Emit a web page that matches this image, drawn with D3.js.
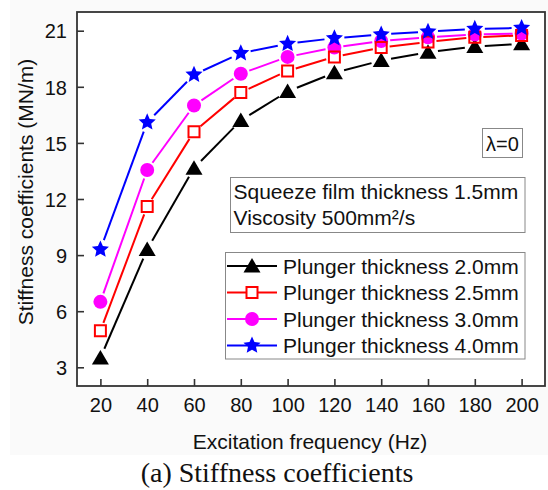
<!DOCTYPE html>
<html><head><meta charset="utf-8">
<script src="https://cdn.jsdelivr.net/npm/d3@7"></script>
<style>
html,body{margin:0;padding:0;background:#fff;}
svg{display:block;}
text{font-family:"Liberation Sans",Arial,sans-serif;fill:#111;}
</style></head><body>
<svg id="c" width="548" height="490"></svg>
<script>
const frequencies = [20, 40, 60, 80, 100, 120, 140, 160, 180, 200];
const plunger20 = [3.5, 9.3, 13.65, 16.2, 17.75, 18.75, 19.4, 19.85, 20.15, 20.3];
const plunger25 = [4.95, 11.6, 15.6, 17.7, 18.85, 19.6, 20.1, 20.4, 20.65, 20.75];
const plunger30 = [6.5, 13.55, 17.0, 18.7, 19.6, 20.1, 20.45, 20.65, 20.8, 20.85];
const plunger40 = [9.3, 16.1, 18.65, 19.8, 20.3, 20.6, 20.8, 20.95, 21.1, 21.15];
const seriesNames = ["Plunger thickness 2.0mm", "Plunger thickness 2.5mm", "Plunger thickness 3.0mm", "Plunger thickness 4.0mm"];
const xTicks = [20, 40, 60, 80, 100, 120, 140, 160, 180, 200];
const yTicks = [3, 6, 9, 12, 15, 18, 21];

const svg = d3.select("#c");
const L = 77, R = 545, T = 12, B = 386;
const x = d3.scaleLinear().domain([10, 210]).range([L, R]);
const y = d3.scaleLinear().domain([2, 22]).range([B, T]);

// light figure background
svg.append("rect").attr("x", 10).attr("y", 0).attr("width", 538).attr("height", 455).attr("fill", "#fafafa");
svg.append("rect").attr("x", L).attr("y", T).attr("width", R - L).attr("height", B - T).attr("fill", "#fff");

// axes with inward ticks
const xAxis = d3.axisBottom(x).tickValues(xTicks).tickSize(-7).tickPadding(0).tickFormat(d3.format("d"));
const gx = svg.append("g").attr("transform", `translate(0,${B})`).call(xAxis);
gx.select(".domain").remove();
gx.selectAll(".tick line").attr("stroke", "#333").attr("stroke-width", 1.6);
gx.selectAll(".tick text").attr("y", 25.5).attr("dy", null).attr("font-size", 20).attr("fill", "#111")
  .style("font-family", '"Liberation Sans",Arial,sans-serif');

const yAxis = d3.axisLeft(y).tickValues(yTicks).tickSize(-7).tickPadding(0).tickFormat(d3.format("d"));
const gy = svg.append("g").attr("transform", `translate(${L},0)`).call(yAxis);
gy.select(".domain").remove();
gy.selectAll(".tick line").attr("stroke", "#333").attr("stroke-width", 1.6);
gy.selectAll(".tick text").attr("x", -10).attr("dy", "0.36em").attr("font-size", 20).attr("fill", "#111")
  .style("font-family", '"Liberation Sans",Arial,sans-serif');

// frame
svg.append("rect").attr("x", L).attr("y", T).attr("width", R - L).attr("height", B - T)
  .attr("fill", "none").attr("stroke", "#333").attr("stroke-width", 1.8);

// marker shapes
function starPath(Ro, Ri) {
  let p = [];
  for (let i = 0; i < 10; i++) {
    const r = i % 2 === 0 ? Ro : Ri;
    const a = -Math.PI / 2 + i * Math.PI / 5;
    p.push([r * Math.cos(a), r * Math.sin(a)]);
  }
  return "M" + p.map(d => d.join(",")).join("L") + "Z";
}
const markers = [
  {color: "#000000", path: "M0,-8L8.5,6.5L-8.5,6.5Z", fill: "#000000", stroke: "none", sw: 0, gap: 10},
  {color: "#ff0000", path: "M-5.5,-5.5H5.5V5.5H-5.5Z", fill: "none", stroke: "#ff0000", sw: 2, gap: 8.5},
  {color: "#ff00ff", path: "M-7,0A7,7 0 1,0 7,0A7,7 0 1,0 -7,0Z", fill: "#ff00ff", stroke: "none", sw: 0, gap: 9},
  {color: "#0000ff", path: starPath(9, 4.2), fill: "#0000ff", stroke: "none", sw: 0, gap: 10}
];
const seriesValues = [plunger20, plunger25, plunger30, plunger40];
const drawOrder = [0, 2, 1, 3];

const plot = svg.append("g");
drawOrder.forEach(si => {
  const m = markers[si];
  const vals = seriesValues[si];
  const pts = frequencies.map((f, i) => [x(f), y(vals[i])]);
  const g = plot.append("g");
  for (let i = 0; i < pts.length - 1; i++) {
    const [x1, y1] = pts[i], [x2, y2] = pts[i + 1];
    const dx = x2 - x1, dy = y2 - y1, len = Math.hypot(dx, dy);
    if (len <= 2 * m.gap) continue;
    const ux = dx / len, uy = dy / len;
    g.append("line")
      .attr("x1", x1 + ux * m.gap).attr("y1", y1 + uy * m.gap)
      .attr("x2", x2 - ux * m.gap).attr("y2", y2 - uy * m.gap)
      .attr("stroke", m.color).attr("stroke-width", 2);
  }
  g.selectAll("path.mk").data(pts).enter().append("path").attr("class", "mk")
    .attr("d", m.path).attr("transform", d => `translate(${d[0]},${d[1]})`)
    .attr("fill", m.fill).attr("stroke", m.stroke).attr("stroke-width", m.sw);
});

// lambda box
svg.append("rect").attr("x", 482.5).attr("y", 128.5).attr("width", 40).attr("height", 29)
  .attr("fill", "#fff").attr("stroke", "#888").attr("stroke-width", 1);
svg.append("text").attr("x", 502.5).attr("y", 150.5).attr("text-anchor", "middle").attr("font-size", 20).text("λ=0");

// condition box
svg.append("rect").attr("x", 230.5).attr("y", 177.5).attr("width", 294.5).attr("height", 55)
  .attr("fill", "#fff").attr("stroke", "#888").attr("stroke-width", 1);
svg.append("text").attr("x", 233.5).attr("y", 198.5).attr("font-size", 21).text("Squeeze film thickness 1.5mm");
svg.append("text").attr("x", 233.5).attr("y", 225).attr("font-size", 21).text("Viscosity 500mm²/s");

// legend
svg.append("rect").attr("x", 225.5).attr("y", 252.5).attr("width", 299.5).attr("height", 106.5)
  .attr("fill", "#fff").attr("stroke", "#888").attr("stroke-width", 1);
const rowY = [266, 292.5, 319, 345.5];
seriesNames.forEach((name, i) => {
  const m = markers[i];
  const cy = rowY[i];
  svg.append("line").attr("x1", 227).attr("x2", 277).attr("y1", cy).attr("y2", cy)
    .attr("stroke", m.color).attr("stroke-width", 2);
  svg.append("path").attr("d", m.path).attr("transform", `translate(252,${cy})`)
    .attr("fill", m.fill === "none" ? "#fff" : m.fill).attr("stroke", m.stroke).attr("stroke-width", m.sw);
  svg.append("text").attr("x", 283).attr("y", cy + 7.5).attr("font-size", 21).text(name);
});

// axis titles
svg.append("text").attr("x", 310).attr("y", 449).attr("text-anchor", "middle").attr("font-size", 21)
  .text("Excitation frequency (Hz)");
svg.append("text").attr("transform", "translate(32.5,192) rotate(-90)").attr("text-anchor", "middle")
  .attr("font-size", 21).text("Stiffness coefficients (MN/m)");

// caption
svg.append("text").attr("x", 277).attr("y", 482).attr("text-anchor", "middle")
  .style("font-family", '"Liberation Serif","Times New Roman",serif').attr("font-size", 28)
  .text("(a) Stiffness coefficients");
</script>
</body></html>
